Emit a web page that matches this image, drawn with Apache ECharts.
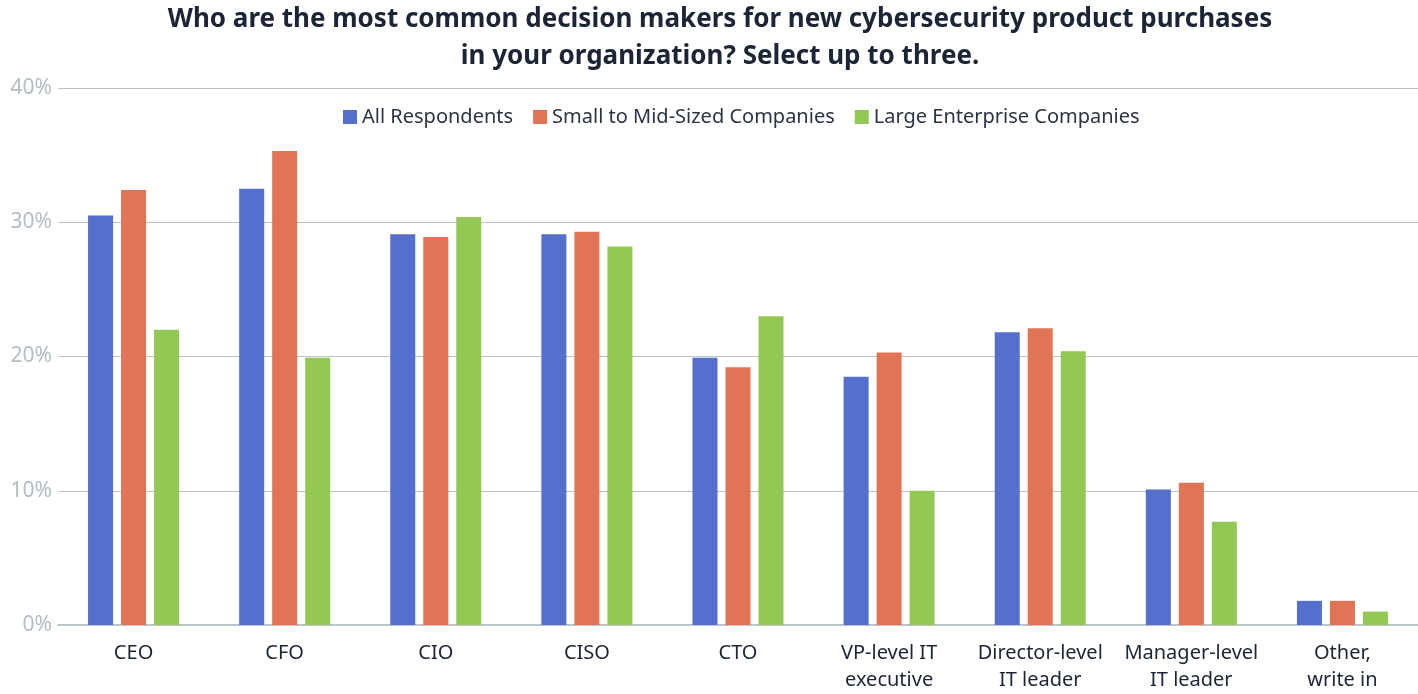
<!DOCTYPE html>
<html>
<head>
<meta charset="utf-8">
<script src="https://cdn.jsdelivr.net/npm/echarts@6/dist/echarts.min.js"></script>
<style>
  html, body { margin: 0; padding: 0; background: #ffffff; }
  #chart { width: 1418px; height: 694px; }
</style>
</head>
<body>
<div id="chart"></div>
<script>
// Decision makers for new cybersecurity product purchases (percent of respondents)
const categories = [
  'CEO', 'CFO', 'CIO', 'CISO', 'CTO',
  'VP-level IT\nexecutive', 'Director-level\nIT leader', 'Manager-level\nIT leader', 'Other,\nwrite in'
];
const seriesNames = ['All Respondents', 'Small to Mid-Sized Companies', 'Large Enterprise Companies'];
const allRespondents = [30.5, 32.5, 29.1, 29.1, 19.9, 18.5, 21.8, 10.1, 1.8];
const smallMidSized  = [32.4, 35.3, 28.9, 29.3, 19.2, 20.3, 22.1, 10.6, 1.8];
const largeEnterprise = [22.0, 19.9, 30.4, 28.2, 23.0, 10.0, 20.4, 7.7, 1.0];
const yTicks = [0, 10, 20, 30, 40];
const titleLines = [
  'Who are the most common decision makers for new cybersecurity product purchases',
  'in your organization? Select up to three.'
];

const colors = ['#5470cc', '#e07454', '#94c855'];
const fontFamily = '"Noto Sans", "Open Sans", sans-serif';

const chart = echarts.init(document.getElementById('chart'));

function bar(name, data, color) {
  return {
    name: name,
    type: 'bar',
    data: data,
    barWidth: 25,
    barGap: '32%',
    itemStyle: { color: color },
    emphasis: { disabled: true }
  };
}

// One title block per line, both centred on the same x
const titles = titleLines.map(function (line, i) {
  return {
    text: line,
    left: 715,
    textAlign: 'center',
    top: 2 + i * 37,
    textStyle: {
      fontFamily: fontFamily,
      fontSize: 26,
      fontWeight: 'bold',
      color: '#1c2536'
    }
  };
});

chart.setOption({
  animation: false,
  color: colors,
  title: titles,
  legend: {
    top: 102,
    left: 338,
    itemWidth: 14,
    itemHeight: 14,
    itemGap: 20,
    icon: 'rect',
    textStyle: {
      fontFamily: fontFamily,
      fontSize: 20,
      color: '#2a3444'
    },
    data: seriesNames
  },
  grid: {
    left: 58,
    right: 0,
    top: 88,
    bottom: 65,
    containLabel: false
  },
  xAxis: {
    type: 'category',
    data: categories,
    axisTick: { show: false },
    axisLine: { lineStyle: { color: '#bcc6ca', width: 2 } },
    axisLabel: {
      fontFamily: fontFamily,
      fontSize: 20,
      color: '#1c2536',
      lineHeight: 27,
      margin: 15,
      interval: 0
    }
  },
  yAxis: {
    type: 'value',
    min: yTicks[0],
    max: yTicks[yTicks.length - 1],
    interval: 10,
    axisLine: { show: false },
    axisTick: { show: false },
    splitLine: { lineStyle: { color: '#b8c4c8', width: 1 } },
    axisLabel: {
      fontFamily: fontFamily,
      fontSize: 21,
      color: '#b2bec3',
      margin: 6,
      formatter: function (v) { return v + '%'; }
    }
  },
  series: [
    bar(seriesNames[0], allRespondents, colors[0]),
    bar(seriesNames[1], smallMidSized, colors[1]),
    bar(seriesNames[2], largeEnterprise, colors[2])
  ]
});
</script>
</body>
</html>
